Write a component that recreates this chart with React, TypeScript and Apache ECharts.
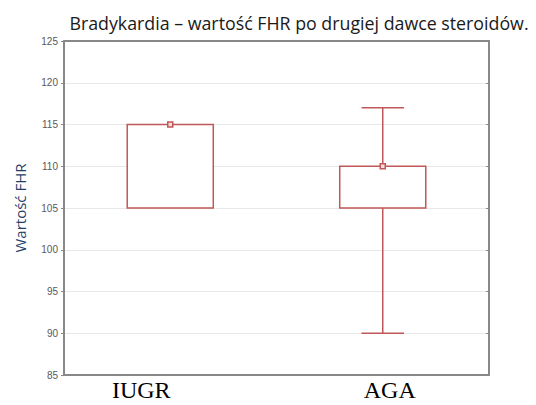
import React, { useEffect, useRef } from "react";
import * as echarts from "echarts";

const categories = ["IUGR", "AGA"];
// [min, Q1, median, Q3, max]
const boxValues = [
  [105, 105, 115, 115, 115],
  [90, 105, 110, 110, 117],
];
const yTicks = [85, 90, 95, 100, 105, 110, 115, 120, 125];
const titleText = "Bradykardia – wartość FHR po drugiej dawce steroidów.";
const yName = "Wartość FHR";

const RED = "#c0585a";

export default function App() {
  const ref = useRef<HTMLDivElement>(null);
  useEffect(() => {
    if (!ref.current) return;
    const chart = echarts.init(ref.current, undefined, { renderer: "svg" });
    const data = boxValues.map((v, i) => [i, ...v]);
    chart.setOption({
      animation: false,
      backgroundColor: "#ffffff",
      title: {
        text: titleText,
        left: 294,
        textAlign: "center",
        top: 9,
        textStyle: {
          fontFamily: "Open Sans",
          fontSize: 17.8,
          fontWeight: "normal",
          color: "#1a1a1a",
        },
      },
      grid: { left: 64, right: 47, top: 41, bottom: 30, containLabel: false, outerBoundsMode: "none" },
      xAxis: [
        {
          type: "category",
          data: categories,
          boundaryGap: true,
          axisLine: { lineStyle: { color: "#888888", width: 2 } },
          axisTick: { inside: true, alignWithLabel: true, length: 3, lineStyle: { color: "#888888" } },
          axisLabel: {
            margin: 5,
            lineHeight: 20,
            formatter: (v: string) => (v === "IUGR" ? "{a|" + v + "}" : "{b|" + v + "}"),
            rich: {
              a: { fontFamily: "Liberation Serif", fontSize: 24, lineHeight: 20, color: "#000", padding: [0, 58, 0, 0] },
              b: { fontFamily: "Liberation Serif", fontSize: 24, lineHeight: 20, color: "#000", padding: [0, 0, 0, 14] },
            },
          },
          splitLine: { show: false },
        },
        {
          type: "category",
          data: categories,
          position: "top",
          boundaryGap: true,
          axisLine: { lineStyle: { color: "#888888", width: 2 } },
          axisTick: { inside: true, alignWithLabel: true, length: 3, lineStyle: { color: "#888888" } },
          axisLabel: { show: false },
        },
      ],
      yAxis: [
        {
          type: "value",
          min: yTicks[0],
          max: yTicks[yTicks.length - 1],
          interval: 5,
          name: yName,
          nameLocation: "middle",
          nameGap: 37,
          nameTextStyle: { fontFamily: "Open Sans", fontSize: 15, color: "#1f3f6a" },
          axisLine: { show: true, lineStyle: { color: "#888888", width: 2 } },
          axisTick: { show: true, inside: false, length: 3, lineStyle: { color: "#888888" } },
          axisLabel: { fontFamily: "Liberation Sans", fontSize: 10, color: "#595959", margin: 6 },
          splitLine: { show: true, lineStyle: { color: "#e8e8e8", width: 1 } },
        },
        {
          type: "value",
          min: yTicks[0],
          max: yTicks[yTicks.length - 1],
          interval: 5,
          position: "right",
          axisLine: { show: true, lineStyle: { color: "#888888", width: 2 } },
          axisTick: { show: true, inside: true, length: 3, lineStyle: { color: "#888888" } },
          axisLabel: { show: false },
          splitLine: { show: false },
        },
      ],
      series: [
        {
          type: "custom",
          xAxisIndex: 0,
          yAxisIndex: 0,
          data,
          encode: { x: 0, y: [1, 2, 3, 4, 5] },
          renderItem: (params: any, api: any) => {
            const idx = api.value(0);
            const mn = api.value(1);
            const q1 = api.value(2);
            const md = api.value(3);
            const q3 = api.value(4);
            const mx = api.value(5);
            const band = api.size([1, 0])[0];
            const cx = api.coord([idx, q1])[0];
            const yMin = api.coord([idx, mn])[1];
            const yQ1 = api.coord([idx, q1])[1];
            const yMd = api.coord([idx, md])[1];
            const yQ3 = api.coord([idx, q3])[1];
            const yMax = api.coord([idx, mx])[1];
            const bw = band * 0.405;
            const cw = band * 0.2;
            const stroke = { stroke: RED, lineWidth: 1.5, fill: "none" };
            const children: any[] = [];
            if (yMax < yQ3) {
              children.push({ type: "line", shape: { x1: cx, y1: yMax, x2: cx, y2: yQ3 }, style: stroke });
              children.push({ type: "line", shape: { x1: cx - cw / 2, y1: yMax, x2: cx + cw / 2, y2: yMax }, style: stroke });
            }
            if (yMin > yQ1) {
              children.push({ type: "line", shape: { x1: cx, y1: yQ1, x2: cx, y2: yMin }, style: stroke });
              children.push({ type: "line", shape: { x1: cx - cw / 2, y1: yMin, x2: cx + cw / 2, y2: yMin }, style: stroke });
            }
            children.push({
              type: "rect",
              shape: { x: cx - bw / 2, y: yQ3, width: bw, height: yQ1 - yQ3 },
              style: { stroke: RED, lineWidth: 1.5, fill: "#ffffff" },
            });
            children.push({
              type: "rect",
              shape: { x: cx - 2.5, y: yMd - 2.5, width: 5, height: 5 },
              style: { stroke: RED, lineWidth: 1.5, fill: "#f4dede" },
            });
            return { type: "group", children };
          },
        },
      ],
    });
    return () => chart.dispose();
  }, []);
  return <div ref={ref} style={{ width: 536, height: 405, position: "absolute", left: 0, top: 0 }} />;
}
